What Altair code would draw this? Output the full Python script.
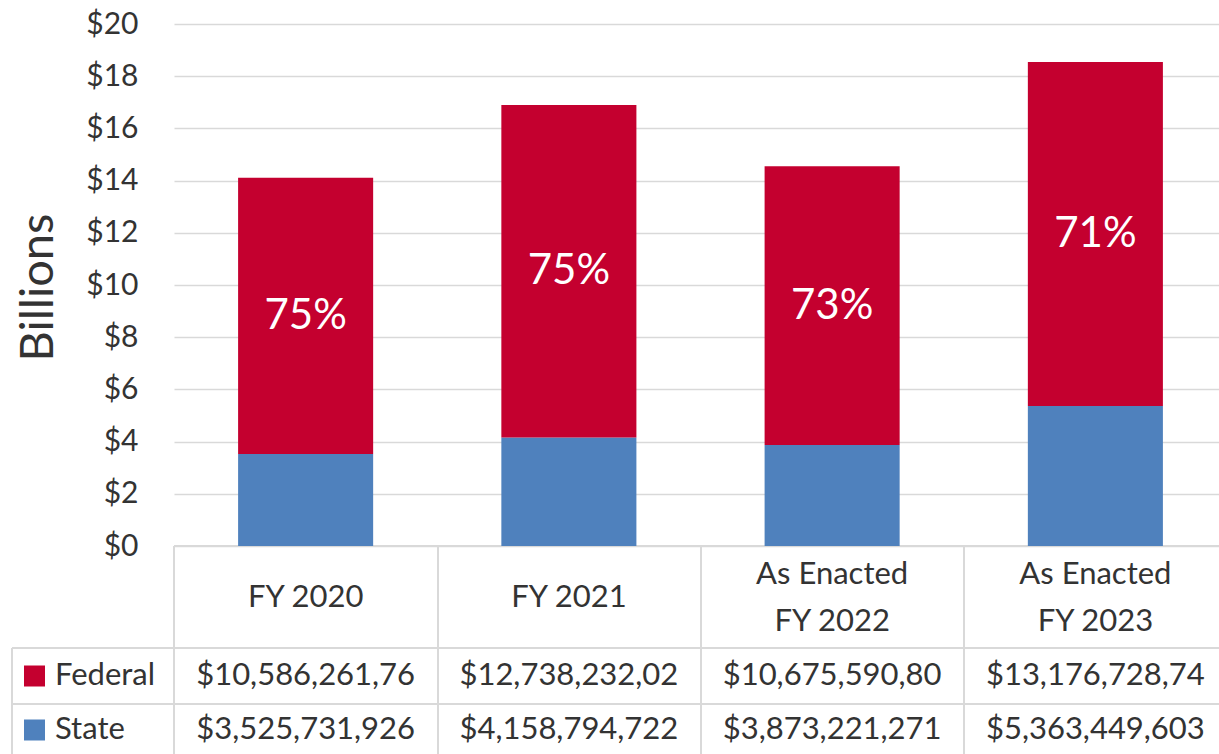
import altair as alt
import pandas as pd

# ---- data ----
categories = ["FY 2020", "FY 2021", "As Enacted\nFY 2022", "As Enacted\nFY 2023"]
federal = [10586261760, 12738232020, 10675590800, 13176728740]
state = [3525731926, 4158794722, 3873221271, 5363449603]
federal_labels = ["$10,586,261,76", "$12,738,232,02", "$10,675,590,80", "$13,176,728,74"]
state_labels = ["$3,525,731,926", "$4,158,794,722", "$3,873,221,271", "$5,363,449,603"]
series_names = ["Federal", "State"]
series_colors = ["#C4002F", "#4F81BD"]
y_ticks = [0, 2, 4, 6, 8, 10, 12, 14, 16, 18, 20]

FONT = "Lato"
TXT = "#333333"
GRID = "#D9D9D9"

df = pd.DataFrame({
    "cat": categories,
    "fed": [v / 1e9 for v in federal],
    "state": [v / 1e9 for v in state],
    "fed_lbl": federal_labels,
    "state_lbl": state_labels,
})
df["total"] = df["fed"] + df["state"]
df["pct"] = (df["fed"] / df["total"] * 100).round().astype(int).astype(str) + "%"
df["pct_y"] = df["state"] + df["fed"] / 2
df["multi"] = df["cat"].str.contains("\n")

rows = []
for _, r in df.iterrows():
    rows.append({"cat": r["cat"], "series": "State", "y0": 0.0, "y1": r["state"]})
    rows.append({"cat": r["cat"], "series": "Federal", "y0": r["state"], "y1": r["total"]})
bars_df = pd.DataFrame(rows)

x_scale = alt.Scale(domain=categories, range=[0, 1053], paddingInner=0.487, paddingOuter=0.2435)
y_scale = alt.Scale(domain=[-7.969, 20.92], nice=False, zero=False)
color_scale = alt.Scale(domain=series_names, range=series_colors)

X = alt.X("cat:N", scale=x_scale, axis=None, sort=categories)

bars = alt.Chart(bars_df).mark_bar().encode(
    x=X,
    y=alt.Y("y0:Q", scale=y_scale, axis=alt.Axis(
        values=y_ticks, labelExpr="'$' + datum.value", title="Billions",
        domain=False, ticks=False, tickSize=0, labelPadding=36,
        labelFont=FONT, labelFontSize=30, labelColor=TXT,
        grid=True, gridColor=GRID, gridWidth=1.5,
        titleFont=FONT, titleFontSize=47, titleFontWeight="normal", titleColor=TXT,
        titleAngle=-90, titleX=-136, titleY=287, titleAlign="center", titleBaseline="middle")),
    y2="y1:Q",
    color=alt.Color("series:N", scale=color_scale, legend=None),
)

pct = alt.Chart(df).mark_text(font=FONT, fontSize=42, color="white", baseline="middle").encode(
    x=X, y=alt.Y("pct_y:Q", scale=y_scale), text="pct:N"
)

header1 = alt.Chart(df).transform_filter("!datum.multi").mark_text(
    font=FONT, fontSize=31, color=TXT, baseline="middle").encode(
    x=X, y=alt.value(598), text="cat:N"
)
header2 = alt.Chart(df).transform_filter("datum.multi").mark_text(
    font=FONT, fontSize=31, color=TXT, baseline="middle", lineBreak="\n", lineHeight=47).encode(
    x=X, y=alt.value(575), text="cat:N"
)
fed_txt = alt.Chart(df).mark_text(font=FONT, fontSize=31, color=TXT, baseline="middle").encode(
    x=X, y=alt.value(676), text="fed_lbl:N"
)
state_txt = alt.Chart(df).mark_text(font=FONT, fontSize=31, color=TXT, baseline="middle").encode(
    x=X, y=alt.value(730), text="state_lbl:N"
)

# table grid lines (layout, in pixels relative to plot left edge at x=174)
hlines = pd.DataFrame({"x": [0, -162, -162], "x2": [1045, 1045, 1045], "y": [546, 648, 704]})
vlines = pd.DataFrame({"x": [-162, 0, 264, 527, 790], "y": [648, 546, 546, 546, 546]})
h = alt.Chart(hlines).mark_rule(color=GRID, strokeWidth=2).encode(
    x=alt.X("x:Q", scale=None), x2="x2:Q", y=alt.Y("y:Q", scale=None)
)
v = alt.Chart(vlines).mark_rule(color=GRID, strokeWidth=2).encode(
    x=alt.X("x:Q", scale=None), y=alt.Y("y:Q", scale=None), y2=alt.value(754)
)

leg_df = pd.DataFrame({"series": series_names, "ypx": [676, 730]})
leg_sq = alt.Chart(leg_df).mark_square(size=441, opacity=1, filled=True).encode(
    x=alt.value(-139.5), y=alt.Y("ypx:Q", scale=None),
    color=alt.Color("series:N", scale=color_scale, legend=None)
)
leg_txt = alt.Chart(leg_df).mark_text(font=FONT, fontSize=31, color=TXT, baseline="middle", align="left").encode(
    x=alt.value(-119), y=alt.Y("ypx:Q", scale=None), text="series:N"
)

chart = alt.layer(h, v, bars, pct, header1, header2, fed_txt, state_txt, leg_sq, leg_txt).properties(
    width=1045, height=754,
    autosize=alt.AutoSizeParams(type="none"),
    padding={"left": 174, "top": 0, "right": 0, "bottom": 0},
).configure_view(stroke=None).resolve_scale(color="shared")

chart.save("out.html", embed_options={"renderer": "svg", "actions": False})
